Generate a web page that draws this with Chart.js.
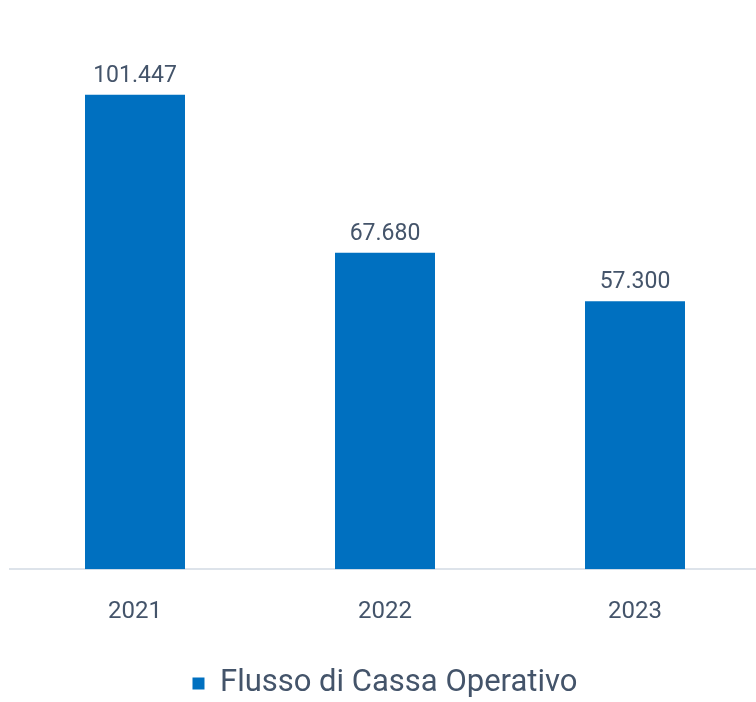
<!DOCTYPE html>
<html>
<head>
<meta charset="utf-8">
<script src="https://cdn.jsdelivr.net/npm/chart.js@4"></script>
<style>
  html, body { margin: 0; padding: 0; background: #fff; overflow: hidden; }
  .chart-wrap { width: 770px; height: 702px; }
</style>
</head>
<body>
<div class="chart-wrap"><canvas id="c"></canvas></div>
<script>
const years = ['2021', '2022', '2023'];
const cashFlow = [101447, 67680, 57300];
const seriesName = 'Flusso di Cassa Operativo';

const textColor = '#44546a';
const barColor = '#0070c0';

// Italian thousand separator: 101447 -> 101.447
const fmt = v => String(Math.round(v)).replace(/\B(?=(\d{3})+(?!\d))/g, '.');

// Draws the value above each bar
const valueLabels = {
  id: 'valueLabels',
  afterDatasetsDraw(chart) {
    const { ctx } = chart;
    const meta = chart.getDatasetMeta(0);
    ctx.save();
    ctx.font = '23px Roboto';
    ctx.fillStyle = textColor;
    ctx.textAlign = 'center';
    ctx.textBaseline = 'alphabetic';
    meta.data.forEach((bar, i) => {
      ctx.fillText(fmt(chart.data.datasets[0].data[i]), bar.x, bar.y - 13);
    });
    ctx.restore();
  }
};

new Chart(document.getElementById('c'), {
  type: 'bar',
  data: {
    labels: years,
    datasets: [{
      label: seriesName,
      data: cashFlow,
      backgroundColor: barColor,
      borderWidth: 0,
      categoryPercentage: 1,
      barPercentage: 0.4,
    }]
  },
  options: {
    responsive: true, maintainAspectRatio: false,
    animation: false,
    layout: { padding: { left: 10, right: 10, top: 8, bottom: -7 } },
    plugins: {
      legend: {
        position: 'bottom',
        labels: {
          color: textColor,
          font: { family: 'Roboto', size: 31 },
          boxWidth: 12, boxHeight: 12,
          padding: 0,
        }
      },
      tooltip: { enabled: false },
    },
    scales: {
      x: {
        grid: { display: false },
        border: { display: true, color: '#dde3ea', width: 2 },
        ticks: { color: textColor, font: { family: 'Roboto', size: 24 }, padding: 20 },
        // extra room between the year labels and the legend
        afterFit(scale) { scale.height += 22; },
      },
      y: { display: false, min: 0, max: 120000 },
    },
  },
  plugins: [valueLabels]
});
</script>
</body>
</html>
